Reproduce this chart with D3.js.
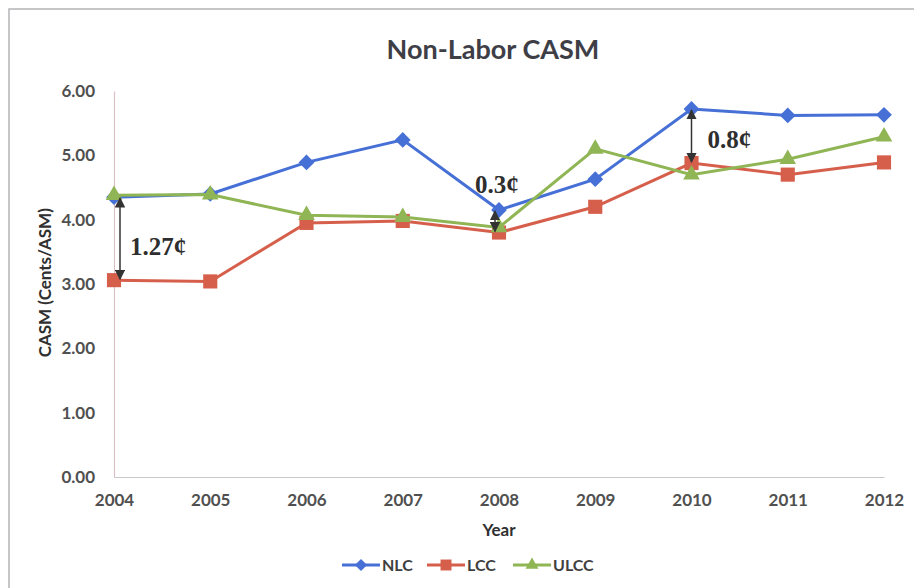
<!DOCTYPE html>
<html>
<head>
<meta charset="utf-8">
<script src="https://cdn.jsdelivr.net/npm/d3@7"></script>
<style>
  body { margin: 0; background: #fff; }
  svg { display: block; font-family: Lato, "Open Sans", sans-serif; }
</style>
</head>
<body>
<div id="chart"></div>
<script>
const years = [2004, 2005, 2006, 2007, 2008, 2009, 2010, 2011, 2012];
const yTicks = [0, 1, 2, 3, 4, 5, 6];
const nlc  = [4.35, 4.40, 4.89, 5.24, 4.15, 4.63, 5.72, 5.62, 5.63];
const lcc  = [3.06, 3.04, 3.95, 3.98, 3.80, 4.20, 4.88, 4.70, 4.89];
const ulcc = [4.38, 4.39, 4.07, 4.04, 3.88, 5.10, 4.70, 4.94, 5.29];
const seriesNames = ['NLC', 'LCC', 'ULCC'];
const gaps = [
    {year: 2004, label: '1.27¢'},
    {year: 2008, label: '0.3¢'},
    {year: 2010, label: '0.8¢'}
];

const width = 914, height = 588;
const margin = {top: 91, right: 30, bottom: 111, left: 114};

const svg = d3.select('#chart').append('svg')
    .attr('width', width)
    .attr('height', height);

// chart frame (only top and left edges fall inside the picture)
svg.append('rect')
    .attr('x', 9).attr('y', 9)
    .attr('width', width + 10).attr('height', height + 10)
    .attr('fill', 'none')
    .attr('stroke', '#b4b4b8')
    .attr('stroke-width', 1.5);

const x = d3.scaleLinear()
    .domain([2004, 2012])
    .range([margin.left, 884]);
const y = d3.scaleLinear()
    .domain([0, 6])
    .range([height - margin.bottom, margin.top]);

// axes
const xAxis = svg.append('g')
    .attr('transform', `translate(0,${y(0)})`)
    .call(d3.axisBottom(x).tickValues(years).tickFormat(d3.format('d')).tickSize(0).tickPadding(17));
xAxis.select('.domain').attr('stroke', '#c8c8c8').attr('stroke-width', 1.2);

const yAxis = svg.append('g')
    .attr('transform', `translate(${x(2004)},0)`)
    .call(d3.axisLeft(y).tickValues(yTicks).tickFormat(d3.format('.2f')).tickSize(0).tickPadding(19));
yAxis.select('.domain').attr('stroke', '#dcc0c6').attr('stroke-width', 1.2);

svg.selectAll('.tick text')
    .attr('font-family', 'Lato, sans-serif')
    .attr('font-size', 17)
    .attr('font-weight', 700)
    .attr('fill', '#505050');

// titles
svg.append('text')
    .attr('x', 493).attr('y', 59)
    .attr('text-anchor', 'middle')
    .attr('font-size', 27)
    .attr('font-weight', 700)
    .attr('fill', '#3e3e46')
    .text('Non-Labor CASM');

svg.append('text')
    .attr('x', x(2008)).attr('y', 536)
    .attr('text-anchor', 'middle')
    .attr('font-size', 17)
    .attr('font-weight', 700)
    .attr('fill', '#303030')
    .text('Year');

svg.append('text')
    .attr('transform', `translate(51,${y(3.02)}) rotate(-90)`)
    .attr('text-anchor', 'middle')
    .attr('font-size', 17)
    .attr('font-weight', 700)
    .attr('fill', '#303030')
    .text('CASM (Cents/ASM)');

const series = [
    {name: 'NLC', values: nlc, color: '#4770d6', shape: d3.symbolSquare, size: 125, rot: 45},
    {name: 'LCC', values: lcc, color: '#d65f4c', shape: d3.symbolSquare, size: 200, rot: 0},
    {name: 'ULCC', values: ulcc, color: '#8fb554', shape: d3.symbolTriangle, size: 120, rot: 0}
];

const line = d3.line()
    .x((d, i) => x(years[i]))
    .y(d => y(d));

// draw order: LCC, NLC, ULCC on top
[series[1], series[0], series[2]].forEach(s => {
    svg.append('path')
        .datum(s.values)
        .attr('d', line)
        .attr('fill', 'none')
        .attr('stroke', s.color)
        .attr('stroke-width', 3);
    svg.selectAll(null)
        .data(s.values)
        .enter().append('path')
        .attr('transform', (d, i) => `translate(${x(years[i])},${y(d)}) rotate(${s.rot})`)
        .attr('d', d3.symbol().type(s.shape).size(s.size))
        .attr('fill', s.color);
});

// gap annotations
svg.append('defs').append('marker')
    .attr('id', 'arr')
    .attr('viewBox', '0 0 10 10')
    .attr('refX', 9).attr('refY', 5)
    .attr('markerWidth', 7).attr('markerHeight', 7)
    .attr('orient', 'auto-start-reverse')
    .append('path')
    .attr('d', 'M0,0 L10,5 L0,10 z')
    .attr('fill', '#333');

const labelOffset = {2004: [16, 3.45], 2008: [-24, 4.42], 2010: [16, 5.11]};
gaps.forEach(g => {
    const i = years.indexOf(g.year);
    const ax = x(g.year) + (g.year === 2008 ? -4 : (g.year === 2004 ? 6 : 0));
    svg.append('line')
        .attr('x1', ax).attr('x2', ax)
        .attr('y1', y(nlc[i]) + 1)
        .attr('y2', y(lcc[i]) - 1)
        .attr('stroke', '#333')
        .attr('stroke-width', 1.5)
        .attr('marker-start', 'url(#arr)')
        .attr('marker-end', 'url(#arr)');
    const off = labelOffset[g.year];
    svg.append('text')
        .attr('x', x(g.year) + off[0])
        .attr('y', y(off[1]))
        .attr('font-family', '"Liberation Serif", "DejaVu Serif", serif')
        .attr('font-size', 25)
        .attr('font-weight', 700)
        .attr('fill', '#2e2e2e')
        .text(g.label);
});

// legend
const legendX = [342, 427, 513];
series.forEach((s, k) => {
    const lg = svg.append('g').attr('transform', `translate(${legendX[k]},565)`);
    lg.append('line')
        .attr('x1', 0).attr('x2', 38)
        .attr('stroke', s.color)
        .attr('stroke-width', 3);
    lg.append('path')
        .attr('transform', `translate(19,0) rotate(${s.rot})`)
        .attr('d', d3.symbol().type(s.shape).size(s.size * 0.6))
        .attr('fill', s.color);
    lg.append('text')
        .attr('x', 40).attr('y', 6)
        .attr('font-size', 16)
        .attr('font-weight', 700)
        .attr('fill', '#404040')
        .text(s.name);
});
</script>
</body>
</html>
